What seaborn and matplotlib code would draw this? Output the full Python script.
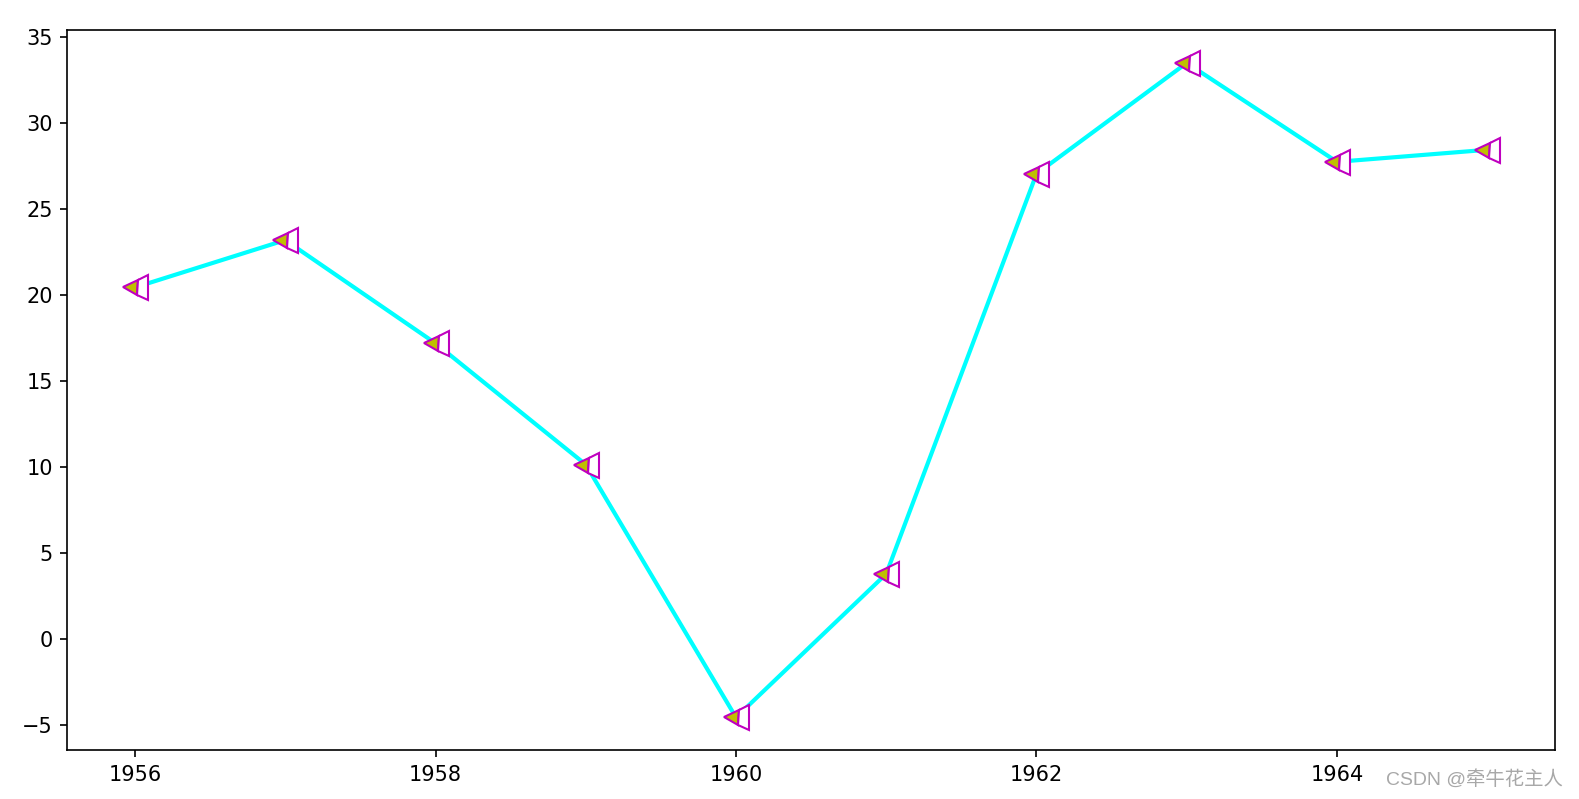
import matplotlib
matplotlib.use("Agg")
import matplotlib.pyplot as plt
import seaborn as sns
import pandas as pd

years = [1956, 1957, 1958, 1959, 1960, 1961, 1962, 1963, 1964, 1965]
values = [20.45, 23.2, 17.2, 10.15, -4.55, 3.8, 27.05, 33.5, 27.75, 28.45]

df = pd.DataFrame({"year": years, "value": values})

fig = plt.figure(figsize=(1579 / 150, 799 / 150), dpi=150)
ax = fig.add_axes([0.0427, 0.0611, 0.9420, 0.9011])
sns.lineplot(data=df, x="year", y="value", ax=ax, color="cyan", linewidth=2,
             marker="<", markersize=12, fillstyle="left",
             markerfacecolor="y", markerfacecoloralt="white",
             markeredgecolor="m", markeredgewidth=1)
ax.set_xlabel("")
ax.set_ylabel("")
ax.tick_params(labelsize=10)

fig.text(0.990, 0.025, "CSDN @牵牛花主人", ha="right", va="center",
         color="#a8a8a8", fontsize=9.3,
         family=["Liberation Sans", "Noto Sans CJK SC", "DejaVu Sans"])

fig.savefig("out.png", dpi=150)
